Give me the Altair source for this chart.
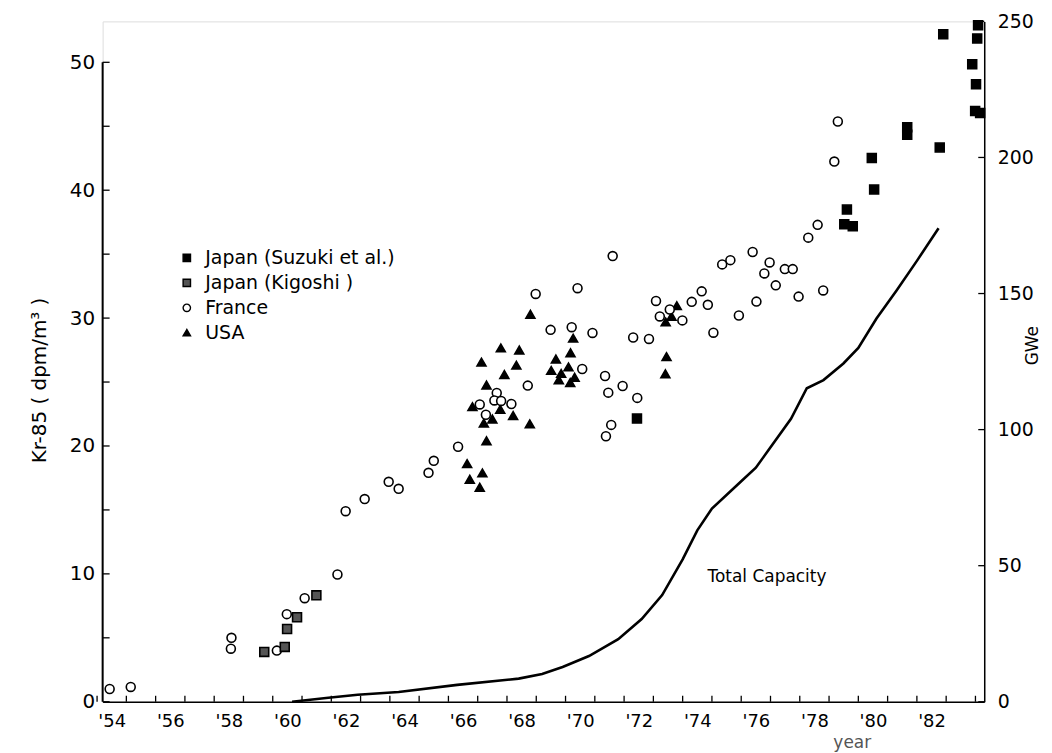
import altair as alt
import pandas as pd

# ---------------- data ----------------
# year: two-digit year (54 = 1954); kr: Kr-85 in dpm/m3
france_year = [53.93, 54.65, 58.09, 58.07, 59.64, 59.98, 60.59, 61.71,
               61.99, 62.64, 63.46, 63.80, 64.82, 65.00, 65.83,
               66.57, 66.78, 67.15, 67.07, 67.30, 67.65, 68.21,
               68.48, 68.99, 69.71, 69.91, 70.07, 70.42, 70.85, 70.96, 71.06, 70.88,
               71.11, 71.45, 71.81, 71.95, 72.35, 72.59, 72.72, 73.06, 73.49, 73.81,
               74.15, 74.36, 74.55, 74.85, 75.13, 75.42, 75.89, 76.02, 76.29, 76.47,
               76.68, 76.99, 77.26, 77.46, 78.30, 77.79, 78.11, 78.68, 78.80]
france_kr = [1.0, 1.16, 5.0, 4.15, 4.0, 6.85, 8.1, 9.95,
             14.9, 15.85, 17.2, 16.65, 17.9, 18.84, 19.94,
             23.25, 22.44, 24.15, 23.56, 23.52, 23.28, 24.72,
             31.89, 29.08, 29.29, 32.34, 26.02, 28.84, 25.47, 24.17, 21.65, 20.76,
             34.85, 24.69, 28.48, 23.76, 28.37, 31.34, 30.13, 30.67, 29.82, 31.27,
             32.09, 31.04, 28.86, 34.2, 34.53, 30.2, 35.17, 31.29, 33.49, 34.35,
             32.56, 33.83, 33.83, 31.68, 32.16, 36.29, 37.29, 42.24, 45.37]

usa_year = [66.14, 66.23, 66.57, 66.66, 66.32, 66.63, 66.80, 66.71, 66.80, 67.00,
            67.27, 67.29, 67.41, 67.71, 67.82, 67.92, 68.28, 68.30, 69.01, 69.17,
            69.27, 69.35, 69.60, 69.67, 69.76, 69.81, 69.66, 72.91, 72.95, 72.92,
            73.12, 73.30]
usa_kr = [18.62, 17.4, 16.77, 17.89, 23.07, 26.56, 24.77, 21.79, 20.41, 22.11,
          22.87, 27.67, 25.59, 22.38, 26.32, 27.5, 21.73, 30.3, 25.91, 26.8,
          25.18, 25.67, 26.18, 27.29, 28.43, 25.37, 24.96, 25.65, 26.99, 29.7,
          30.14, 30.97]

kigoshi_year = [59.21, 59.91, 59.99, 60.33, 60.99]
kigoshi_kr = [3.9, 4.29, 5.69, 6.61, 8.32]

suzuki_year = [71.94, 79.02, 79.31, 79.11, 79.96, 80.04, 81.17, 81.17, 82.28,
               82.40, 83.39, 83.52, 83.49, 83.66, 83.59, 83.56]
suzuki_kr = [22.14, 37.34, 37.19, 38.49, 42.51, 40.05, 44.93, 44.33, 43.34,
             52.2, 49.85, 48.28, 46.19, 46.04, 52.9, 51.87]

# Total nuclear capacity (GWe, right axis)
cap_year = [60.16, 61.4, 62.4, 63.8, 65.8, 67.9, 68.7, 69.4, 70.3, 71.3, 72.1,
            72.8, 73.5, 74.0, 74.5, 75.4, 76.0, 76.44, 77.2, 77.74, 78.31, 78.99,
            79.5, 80.12, 80.8, 81.5, 82.24]
cap_gwe = [0, 1.5, 2.6, 3.6, 6.2, 8.5, 10.2, 12.8, 16.8, 23, 30.4,
           39.2, 52.3, 63, 71, 80, 86, 92.6, 104, 115.2, 118.2, 124.3,
           130, 140.8, 151, 162, 174]

series_order = ["Japan (Suzuki et al.)", "Japan (Kigoshi )", "France", "USA"]
year_labels = [54, 56, 58, 60, 62, 64, 66, 68, 70, 72, 74, 76, 78, 80, 82]
year_ticks = [53.5 + i for i in range(31)]
kr_labels = [0, 10, 20, 30, 40, 50]
kr_ticks = [0, 5, 10, 15, 20, 25, 30, 35, 40, 45, 50]
gwe_ticks = [0, 50, 100, 150, 200, 250]
annotation = ["Total Capacity"]
annotation_year = [76.38]
annotation_gwe = [45.7]

# ---------------- build tables ----------------
rows = []
for name, xs, ys in [("USA", usa_year, usa_kr),
                     ("France", france_year, france_kr),
                     ("Japan (Kigoshi )", kigoshi_year, kigoshi_kr),
                     ("Japan (Suzuki et al.)", suzuki_year, suzuki_kr)]:
    rows += [{"series": name, "year": x, "kr": y} for x, y in zip(xs, ys)]
pts = pd.DataFrame(rows)
cap = pd.DataFrame({"year": cap_year, "gwe": cap_gwe})
xt = pd.DataFrame({"year": year_ticks})
kt = pd.DataFrame({"kr": kr_ticks})
gt = pd.DataFrame({"gwe": gwe_ticks})
kline = pd.DataFrame({"kr": [kr_ticks[0]], "kr_end": [kr_ticks[-1]]})
ann = pd.DataFrame({"year": annotation_year, "gwe": annotation_gwe, "label": annotation})

W, H = 885, 683
FONT = "DejaVu Sans"
x_scale = alt.Scale(domain=[53.69, 83.80], nice=False, zero=False)
kr_scale = alt.Scale(domain=[0, 53.2], nice=False)
gwe_scale = alt.Scale(domain=[0, 250], nice=False)

legend = alt.Legend(title=None, orient="none", legendX=75, legendY=228,
                    labelFontSize=19, labelFont=FONT, labelLimit=0, symbolSize=55,
                    symbolStrokeColor="black", symbolStrokeWidth=1.4,
                    rowPadding=5, labelOffset=9, padding=0)

x_axis = alt.Axis(values=year_labels, labelExpr="\"'\" + datum.value", tickSize=0,
                  grid=False, domainColor="black", domainWidth=1.5,
                  labelFontSize=18, labelPadding=11, labelColor="black",
                  title="year", titleX=752, titleY=41, titleAlign="center",
                  titleBaseline="middle", titleFontSize=17, titleFontWeight="normal",
                  titleColor="#555", titleAnchor="start")

points = alt.Chart(pts).mark_point(filled=True, strokeWidth=1.6,
                                   opacity=1, size=80).encode(
    x=alt.X("year:Q", scale=x_scale, axis=x_axis),
    y=alt.Y("kr:Q", scale=kr_scale,
            axis=alt.Axis(values=kr_labels, tickSize=0, domain=False, grid=False,
                          labelFontSize=20, labelPadding=8, labelColor="black",
                          title="Kr-85 ( dpm/m³ )", titleX=-63, titleY=360,
                          titleAngle=270, titleAlign="center", titleBaseline="middle",
                          titleFontSize=20, titleFontWeight="normal")),
    shape=alt.Shape("series:N", scale=alt.Scale(domain=series_order,
                    range=["square", "square", "circle", "triangle-up"]), legend=legend),
    fill=alt.Fill("series:N", scale=alt.Scale(domain=series_order,
                  range=["black", "#555555", "white", "black"]), legend=legend),
    stroke=alt.Stroke("series:N", scale=alt.Scale(domain=series_order,
                      range=["black", "black", "black", "black"]), legend=legend),
)

x_ticks = alt.Chart(xt).mark_rule(color="black", strokeWidth=1.3).encode(
    x=alt.X("year:Q", scale=x_scale, title="year"),
    y=alt.value(H), y2=alt.value(H - 6))

left_ticks = alt.Chart(kt).mark_rule(color="black", strokeWidth=1.3).encode(
    y=alt.Y("kr:Q", title="Kr-85 ( dpm/m³ )"), x=alt.value(0), x2=alt.value(7))

left_line = alt.Chart(kline).mark_rule(color="black", strokeWidth=2).encode(
    y=alt.Y("kr:Q", title="Kr-85 ( dpm/m³ )"), y2="kr_end:Q", x=alt.value(0))

left = alt.layer(left_line, left_ticks, x_ticks, points)

cap_line = alt.Chart(cap).mark_line(color="black", strokeWidth=2.6).encode(
    x=alt.X("year:Q", scale=x_scale, title="year"),
    y=alt.Y("gwe:Q", scale=gwe_scale,
            axis=alt.Axis(orient="right", values=gwe_ticks, tickSize=0, grid=False,
                          domainColor="black", domainWidth=1.5,
                          labelFontSize=19, labelPadding=13, labelColor="black",
                          title="GWe", titleX=48, titleY=325, titleAngle=270,
                          titleAlign="center", titleBaseline="middle",
                          titleFontSize=17, titleFontWeight="normal")))

right_ticks = alt.Chart(gt).mark_rule(color="black", strokeWidth=1.3).encode(
    y=alt.Y("gwe:Q", title="GWe"), x=alt.value(W - 6), x2=alt.value(W))

ann_text = alt.Chart(ann).mark_text(fontSize=17, font=FONT, align="center",
                                    baseline="middle", color="black").encode(
    x=alt.X("year:Q", scale=x_scale, title="year"),
    y=alt.Y("gwe:Q", title="GWe"),
    text="label:N")

right = alt.layer(cap_line, right_ticks, ann_text)

chart = alt.layer(left, right).resolve_scale(y="independent").properties(
    width=W, height=H,
    autosize=alt.AutoSizeParams(type="none"),
    padding={"left": 95, "top": 12, "right": 60, "bottom": 50},
).configure_view(strokeWidth=0, stroke="transparent").configure(font=FONT).configure_axis(
    labelFont=FONT, titleFont=FONT)

chart.save("out.html", embed_options={"renderer": "svg", "actions": False})
